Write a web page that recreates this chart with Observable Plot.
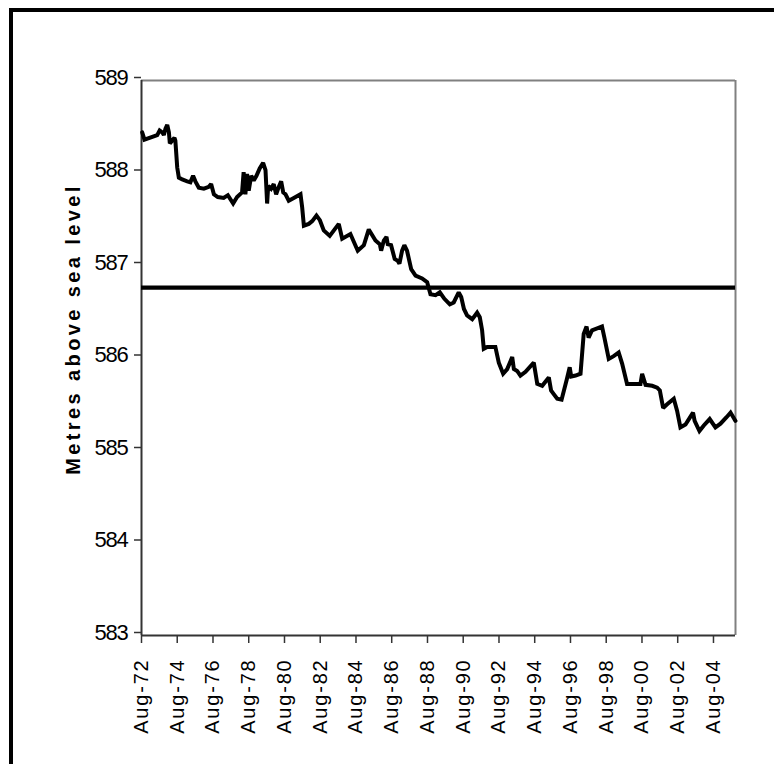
<!DOCTYPE html>
<html>
<head>
<meta charset="utf-8">
<script src="https://cdn.jsdelivr.net/npm/d3@7"></script>
<script src="https://cdn.jsdelivr.net/npm/@observablehq/plot@0.6"></script>
<style>
  html, body { margin: 0; padding: 0; background: #fff; width: 774px; height: 764px; overflow: hidden; }
  #frame { position: absolute; left: 9px; top: 8px; width: 2000px; height: 2000px; border: 4px solid #000; box-sizing: border-box; }
  #chart { position: absolute; left: 0; top: 0; }
  #chart svg { font-family: "Liberation Sans", Arial, sans-serif; }
  g[aria-label="x-axis tick label"] text { letter-spacing: 1.8px; }
  g[aria-label="y-axis tick label"] text { letter-spacing: -1.2px; }
  g[aria-label="text"] text { letter-spacing: 3.4px; }
</style>
</head>
<body>
<div id="frame"></div>
<div id="chart"></div>
<script>
// Observation dates and lake level (metres above sea level)
const dates = [
  "1972-08-15","1972-10-01","1973-06-18","1973-08-07","1973-09-28","1973-11-01","1973-12-04","1974-01-09",
  "1974-02-12","1974-03-03","1974-04-18","1974-06-06","1974-06-24","1974-08-01","1974-09-03","1974-11-12",
  "1975-02-21","1975-04-27","1975-06-21","1975-08-07","1975-10-16","1976-01-27","1976-05-07","1976-06-24",
  "1976-08-19","1976-11-07","1977-03-07","1977-06-01","1977-09-17","1977-12-06","1978-03-18","1978-04-19",
  "1978-05-25","1978-06-28","1978-08-01","1978-09-21","1978-11-12","1979-01-06","1979-03-13","1979-05-22",
  "1979-07-10","1979-08-12","1979-09-03","1979-11-01","1979-12-25","1980-02-12","1980-04-06","1980-05-25",
  "1980-07-06","1980-08-22","1980-10-27","1981-02-07","1981-06-24","1981-07-28","1981-09-01","1981-12-10",
  "1982-02-19","1982-05-16","1982-07-25","1982-10-12","1983-02-12","1983-08-15","1983-10-24","1984-04-09",
  "1984-09-06","1985-01-09","1985-04-19","1985-09-03","1985-12-01","1985-12-28","1986-02-21","1986-04-16",
  "1986-05-12","1986-07-19","1986-10-01","1986-12-04","1987-01-06","1987-03-01","1987-04-16","1987-06-10",
  "1987-09-03","1987-12-01","1988-04-13","1988-07-25","1988-10-01","1989-01-13","1989-04-10","1989-07-13",
  "1989-11-01","1990-01-19","1990-05-01","1990-06-21","1990-08-16","1990-10-19","1991-02-01","1991-05-12",
  "1991-07-06","1991-08-22","1991-09-25","1991-12-04","1992-05-19","1992-07-28","1992-10-25","1993-01-16",
  "1993-04-28","1993-06-01","1993-08-07","1993-10-13","1994-01-25","1994-07-13","1994-09-22","1995-01-01",
  "1995-05-16","1995-07-01","1995-08-25","1995-11-04","1996-02-01","1996-05-13","1996-07-16","1996-08-16",
  "1996-11-13","1997-02-22","1997-04-28","1997-06-25","1997-08-07","1997-10-16","1998-01-28","1998-05-07",
  "1998-06-25","1998-09-22","1999-01-01","1999-04-13","1999-06-22","1999-10-01","2000-02-16","2000-07-01",
  "2000-08-04","2000-10-13","2001-02-25","2001-06-07","2001-08-01","2001-10-07","2001-12-28","2002-05-13",
  "2002-07-19","2002-09-25","2003-01-07","2003-06-10","2003-07-13","2003-10-19","2004-01-16","2004-05-16",
  "2004-09-10","2004-12-22","2005-04-25","2005-07-16","2005-10-25"
];
const levels = [
  588.44,588.36,588.41,588.46,588.44,588.41,588.48,588.52,
  588.44,588.32,588.35,588.38,588.35,588.06,587.95,587.93,
  587.91,587.90,587.97,587.91,587.84,587.83,587.85,587.88,
  587.77,587.74,587.73,587.76,587.67,587.74,587.79,588.01,
  587.77,587.99,587.81,587.97,587.92,587.97,588.05,588.11,
  588.03,587.67,587.86,587.83,587.88,587.77,587.85,587.91,
  587.79,587.77,587.70,587.73,587.77,587.63,587.43,587.45,
  587.48,587.54,587.49,587.38,587.32,587.45,587.29,587.34,
  587.16,587.22,587.39,587.27,587.23,587.16,587.27,587.31,
  587.23,587.22,587.07,587.05,587.02,587.16,587.22,587.16,
  586.96,586.89,586.86,586.82,586.69,586.68,586.71,586.64,
  586.58,586.60,586.71,586.66,586.53,586.46,586.42,586.49,
  586.44,586.30,586.10,586.12,586.12,585.95,585.83,585.88,
  586.01,585.88,585.86,585.81,585.85,585.95,585.72,585.70,
  585.79,585.65,585.61,585.56,585.55,585.76,585.90,585.80,
  585.81,585.83,586.26,586.34,586.22,586.30,586.32,586.34,
  586.22,585.99,586.02,586.06,585.94,585.72,585.72,585.72,
  585.83,585.71,585.70,585.68,585.65,585.46,585.50,585.56,
  585.43,585.25,585.28,585.41,585.32,585.21,585.27,585.34,
  585.25,585.29,585.36,585.41,585.32
];
// Reference level (horizontal line)
const referenceLevel = [586.76];
// Axis ticks
const tickYears = [1972,1974,1976,1978,1980,1982,1984,1986,1988,1990,1992,1994,1996,1998,2000,2002,2004];
const tickMonthLabel = "Aug";
const yTicks = [583,584,585,586,587,588,589];
const xDomain = ["1972-08-01","2005-10-25"];
const yDomain = [583, 589];
const yTitle = "Metres above sea level";

const data = dates.map((d, i) => ({date: new Date(d), level: levels[i]}));
const xTicks = tickYears.map(y => new Date(Date.UTC(y, 7, 1)));
const xDom = xDomain.map(d => new Date(d));

const chart = Plot.plot({
  width: 774,
  height: 764,
  marginLeft: 141,
  marginRight: 39,
  marginTop: 80,
  marginBottom: 129,
  style: {fontFamily: "'Liberation Sans', Arial, sans-serif", background: "transparent", overflow: "visible"},
  x: {type: "utc", domain: xDom},
  y: {domain: yDomain},
  marks: [
    Plot.ruleY([yDomain[1]], {stroke: "#808080", strokeWidth: 2}),
    Plot.ruleX([xDom[1]], {stroke: "#808080", strokeWidth: 2}),
    Plot.ruleX([xDom[0]], {stroke: "#333", strokeWidth: 2}),
    Plot.ruleY([yDomain[0]], {stroke: "#333", strokeWidth: 2}),
    Plot.axisY({
      ticks: yTicks, tickSize: 7, tickPadding: 7, fontSize: 22, dy: -3,
      tickFormat: d => String(d), label: null, stroke: "#333", strokeWidth: 1.5, color: "#000"
    }),
    Plot.axisX({
      ticks: xTicks, tickSize: 8, tickPadding: 15, fontSize: 20, tickRotate: -90,
      tickFormat: d => `${tickMonthLabel}-${String(d.getUTCFullYear()).slice(-2)}`,
      label: null, stroke: "#333", strokeWidth: 1.5, color: "#000"
    }),
    Plot.ruleY(referenceLevel, {stroke: "#000", strokeWidth: 4.3}),
    Plot.line(data, {x: "date", y: "level", stroke: "#000", strokeWidth: 4, strokeLinejoin: "miter", strokeMiterlimit: 2}),
    Plot.text([yTitle], {frameAnchor: "left", textAnchor: "middle", rotate: -90, dx: -68, dy: -29, fontSize: 20, fontWeight: "bold", fill: "#000"})
  ]
});
document.getElementById("chart").appendChild(chart);
</script>
</body>
</html>
